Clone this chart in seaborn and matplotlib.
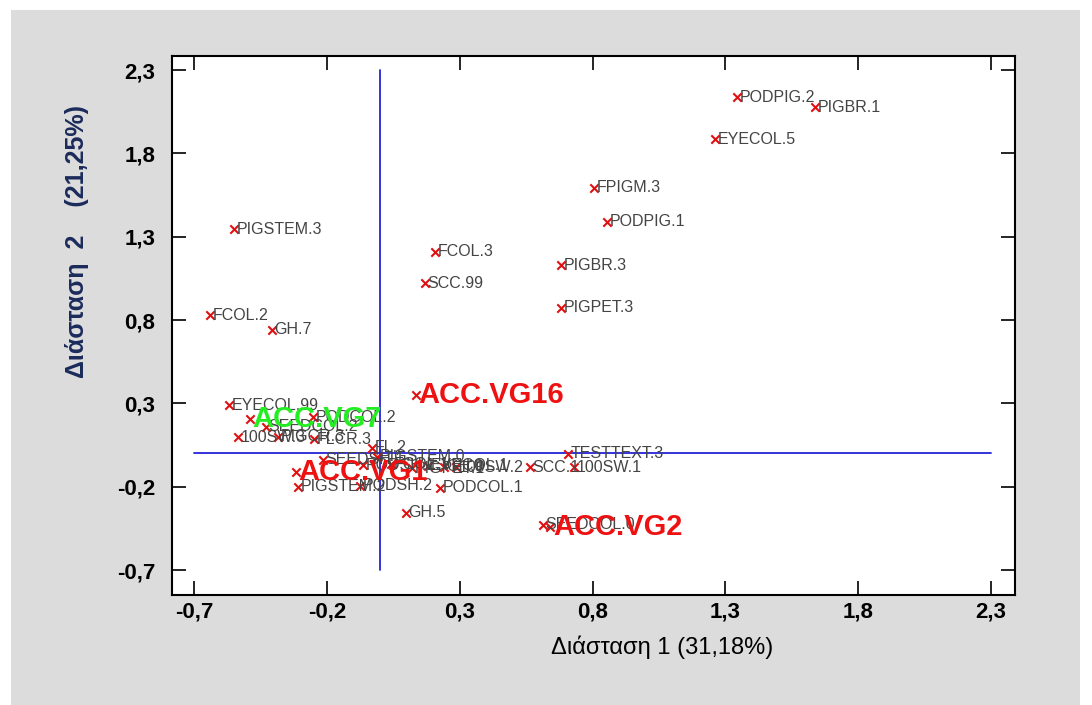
import matplotlib
matplotlib.use("Agg")
import matplotlib.pyplot as plt
import seaborn as sns
import pandas as pd
from matplotlib.patches import Rectangle

# ---- data ----
labels = ["PODPIG.2", "PIGBR.1", "EYECOL.5", "FPIGM.3", "PODPIG.1", "PIGBR.3",
          "PIGPET.3", "PIGSTEM.3", "FCOL.2", "GH.7", "FCOL.3", "SCC.99",
          "EYECOL.99", "PODCOL.2", "SEEDCOL.2", "100SW.3", "PIGCR.3", "FLCR.3",
          "FL.2", "PIGSTEM.0", "TESTTEXT.3", "SCC.1", "100SW.1", "100SW.2",
          "PODCOL.1", "GH.5", "SEEDCOL.0", "PIGSTEM.2", "PODSH.2", "SEEDSH.1",
          "PODSH.1", "FCOL.1", "GH.9", "PIGPET.1", "EYECOL.1"]
dim1 = [1.345, 1.638, 1.262, 0.804, 0.853, 0.680,
        0.680, -0.550, -0.640, -0.407, 0.206, 0.168,
        -0.568, -0.253, -0.430, -0.535, -0.385, -0.250,
        -0.030, -0.010, 0.706, 0.563, 0.729, 0.285,
        0.225, 0.097, 0.612, -0.309, -0.075, -0.215,
        -0.065, 0.040, 0.240, 0.120, 0.180]
dim2 = [2.138, 2.078, 1.886, 1.592, 1.388, 1.130,
        0.872, 1.346, 0.830, 0.740, 1.208, 1.022,
        0.290, 0.218, 0.160, 0.098, 0.100, 0.085,
        0.032, -0.020, -0.004, -0.082, -0.082, -0.082,
        -0.207, -0.357, -0.429, -0.200, -0.195, -0.040,
        -0.070, -0.065, -0.080, -0.090, -0.075]

acc_labels = ["ACC.VG16", "ACC.VG7", "ACC.VG1", "ACC.VG2"]
acc_dim1 = [0.135, -0.490, -0.317, 0.640]
acc_dim2 = [0.350, 0.206, -0.112, -0.440]
acc_colors = ["#ee1111", "#22ee22", "#ee1111", "#ee1111"]

x_ticks = [-0.7, -0.2, 0.3, 0.8, 1.3, 1.8, 2.3]
y_ticks = [-0.7, -0.2, 0.3, 0.8, 1.3, 1.8, 2.3]

df = pd.DataFrame({"d1": dim1 + acc_dim1, "d2": dim2 + acc_dim2})

# ---- figure ----
sns.set_style("ticks")
plt.rcParams["font.family"] = ["Liberation Sans", "DejaVu Sans"]

fig = plt.figure(figsize=(10.92, 7.05), dpi=100)
fig.patch.set_facecolor("white")
fig.patches.append(Rectangle((11 / 1092, 0), (1080 - 11) / 1092, (705 - 10) / 705,
                             transform=fig.transFigure, facecolor="#dcdcdc",
                             edgecolor="none", zorder=-10))

ax = fig.add_axes([172 / 1092, 1 - 595 / 705, (1015 - 172) / 1092, (595 - 56) / 705])
ax.set_facecolor("white")

# reference lines
ax.plot([-0.7, 2.3], [0, 0], color="#2424d8", lw=1.3, zorder=1)
ax.plot([0, 0], [-0.7, 2.3], color="#2424d8", lw=1.3, zorder=1)

sns.scatterplot(data=df, x="d1", y="d2", marker="x", color="#e01010", s=36,
                linewidth=1.5, ax=ax, zorder=3, legend=False)

for t, x, y in zip(labels, dim1, dim2):
    ax.annotate(t, (x, y), xytext=(2, 0), textcoords="offset points",
                ha="left", va="center", fontsize=11.5, color="#444444", zorder=4)

for t, x, y, c in zip(acc_labels, acc_dim1, acc_dim2, acc_colors):
    ax.annotate(t, (x, y), xytext=(2, 0), textcoords="offset points",
                ha="left", va="center", fontsize=21, fontweight="bold",
                color=c, zorder=5)

ax.set_xlim(-0.783, 2.39)
ax.set_ylim(-0.85, 2.384)
ax.set_xticks(x_ticks)
ax.set_yticks(y_ticks)
ax.set_xticklabels([f"{v:.1f}".replace(".", ",") for v in x_ticks],
                   fontsize=16, fontweight="bold")
ax.set_yticklabels([f"{v:.1f}".replace(".", ",") for v in y_ticks],
                   fontsize=16, fontweight="bold")
ax.tick_params(direction="in", length=10, width=1.2, top=True, right=True,
               colors="black")
ax.tick_params(axis="x", pad=5)
ax.tick_params(axis="y", pad=12)
for s in ax.spines.values():
    s.set_visible(True)
    s.set_linewidth(1.5)
    s.set_color("black")

ax.set_xlabel("Διάσταση 1 (31,18%)", fontsize=17, color="black")
ax.xaxis.set_label_coords((662 - 172) / 843, -0.075)
ax.set_ylabel("Διάσταση  2    (21,25%)", fontsize=18, fontweight="bold", color="#1a2a5a")
ax.yaxis.set_label_coords(-0.098, 0.655)

fig.savefig("out.png", dpi=100)
